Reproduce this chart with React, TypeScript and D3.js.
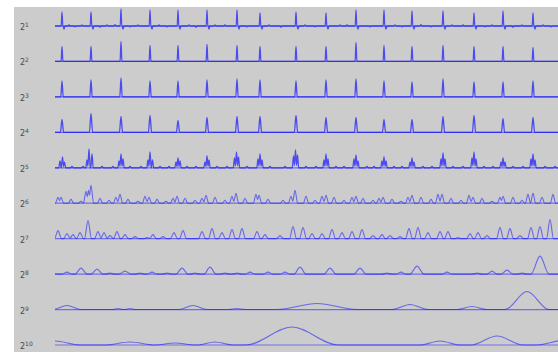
import React from 'react';
import * as d3 from 'd3';

type Peak = [number, number, number]; // [sample, amplitude, half-width]

const N_SAMPLES = 503;
const SCALES = ['1', '2', '3', '4', '5', '6', '7', '8', '9', '10'];

// beat positions (sample index) shared by the fine scales
const BEATS = [7, 36, 66, 95, 123, 152, 182, 205, 241, 271, 301, 329, 357, 388, 419, 448, 478];
const ROW1_HEIGHTS = [14, 14, 17, 16, 16, 16, 16, 13, 14, 13, 16, 16, 15, 15, 13, 15, 13];
const ROW2_HEIGHTS = [15, 15, 20, 16, 16, 17, 16, 15, 15, 15, 19, 16, 15, 16, 15, 15, 14];
const ROW3_HEIGHTS = [16, 17, 19, 16, 16, 17, 18, 17, 16, 17, 18, 16, 15, 18, 15, 15, 16];
const ROW4_HEIGHTS = [13, 19, 16, 17, 12, 15, 16, 16, 17, 15, 15, 13, 13, 16, 17, 14, 15];

// small jitter around the first scale baseline
const ROW1_NOISE: [number, number][] = [
  [9, -3], [14, 1.2], [20, -1], [27, 1], [38, -3], [45, -1.2], [52, 1], [60, 1.3], [68, -3], [75, -1],
  [83, 1], [97, -3], [104, 1.2], [112, -1], [125, -3], [134, 1], [141, -1.3], [154, -3], [160, 1],
  [170, 1.2], [184, -3], [192, -1], [207, -3], [214, 1], [226, -1.2], [243, -3], [250, 1], [260, -1],
  [273, -3], [285, 1], [292, 1.2], [303, -3], [315, -1], [331, -3], [340, 1], [347, -1], [359, -3],
  [366, 1.3], [376, -1], [390, -3], [397, 1], [408, 1.2], [421, -3], [430, -1], [437, 1], [450, -3],
  [458, -1.2], [467, 1], [480, -3], [488, 1], [496, -1],
];

const ROW5_PEAKS: [number, number][] = [
  [5, 7], [7.5, 11], [9.5, 6], [32, 8], [34, 19], [37, 14], [64, 7], [66, 14], [68, 9],
  [93, 8], [95, 16], [97.5, 8], [121, 6], [123, 10], [125, 7], [150, 6], [152, 12], [154, 8],
  [179.5, 10], [181.5, 16], [183.5, 11], [203, 9], [205, 14], [207, 8], [238.5, 12], [240.5, 18],
  [242.5, 13], [269, 8], [271, 14], [273, 9], [299, 9], [301, 13], [303, 7], [327, 7], [329, 11],
  [331, 7], [355, 6], [357, 10], [359, 6], [386, 9], [388, 15], [390, 9], [417, 10], [419, 16],
  [421, 9], [446, 6], [448, 10], [450, 6], [476, 9], [478, 14], [480, 8],
];
const ROW5_SMALL = [17, 28, 47, 58, 75, 86, 105, 114, 132, 141, 162, 172, 192, 215, 230, 251, 261, 281,
  289, 312, 319, 339, 347, 368, 377, 398, 408, 429, 438, 458, 468, 490, 500];

const ROW6_PEAKS: [number, number][] = [
  [3, 6], [6, 6], [16, 4], [26, 2], [31, 12], [33.5, 13], [36, 18], [45, 5], [54, 3], [61, 6], [65, 9],
  [73, 4], [83, 2], [90, 7], [94, 6], [102, 4], [111, 2], [118, 5], [122, 7], [130, 5], [140, 3],
  [147, 5], [151, 8], [160, 6], [170, 3], [177, 7], [181, 10], [190, 5], [201, 9], [204, 8], [213, 4],
  [228, 3], [236, 7], [240, 13], [251, 7], [260, 3], [267, 7], [271, 8], [279, 6], [289, 3], [297, 6],
  [301, 7], [308, 5], [318, 3], [324, 5], [328, 6], [337, 4], [346, 2], [353, 6], [357, 8], [366, 6],
  [376, 4], [383, 9], [387, 9], [396, 5], [406, 3], [414, 8], [418, 6], [427, 5], [437, 2], [445, 6],
  [448, 7], [458, 6], [467, 3], [473, 9], [478, 10], [487, 6], [498, 9],
];

const ROW7_PEAKS: [number, number][] = [
  [3, 8], [12, 5], [18, 4], [25, 6], [33, 18], [43, 7], [49, 6], [55, 3], [62, 7], [70, 4], [80, 2],
  [92, 1], [98, 4], [108, 2], [119, 6], [128, 8], [147, 7], [157, 10], [167, 6], [177, 9], [187, 10],
  [202, 7], [210, 4], [225, 3], [238, 12], [248, 11], [257, 5], [267, 5], [277, 9], [287, 6], [297, 7],
  [307, 9], [318, 3], [327, 4], [335, 3], [345, 2], [354, 10], [363, 11], [373, 6], [385, 7], [393, 7],
  [403, 1], [415, 5], [423, 6], [432, 3], [445, 11], [455, 10], [465, 3], [476, 11], [485, 12], [495, 19],
];

const ROW8_PEAKS: Peak[] = [
  [12, 2, 5], [26, 6, 6], [42, 5, 6], [55, 1, 5], [70, 3, 6], [85, 1, 5], [97, 2, 5], [112, 1, 5],
  [127, 6, 6], [140, 1, 5], [155, 7, 6], [170, 1, 5], [182, 1, 5], [195, 2, 5], [213, 2, 5], [230, 2, 5],
  [245, 7, 6], [275, 6, 6], [305, 6, 6], [332, 1, 5], [346, 2, 5], [362, 8, 7], [392, 2, 5], [422, 1, 5],
  [437, 3, 5], [452, 4, 6], [467, 1, 5], [485, 18, 9],
];

const ROW9_PEAKS: Peak[] = [
  [12, 4, 14], [63, 1, 5], [75, 1, 5], [138, 4, 14], [182, 1, 8], [262, 6, 40], [355, 5, 18],
  [417, 3, 15], [472, 18, 22],
];

const ROW10_PEAKS: Peak[] = [
  [0, 4, 25], [75, 3, 25], [120, 2, 20], [160, 3, 18], [237, 18, 46], [385, 4, 20], [442, 9, 26],
  [510, 5, 28],
];

const merges = (a: Peak, b: Peak) => a[1] > 0 && b[1] > 0 && a[0] + a[2] > b[0] - b[2];

const valley = (a: Peak, b: Peak): [number, number] => {
  const [p1, h1, w1] = a;
  const [p2, h2, w2] = b;
  let x = (h1 - h2 + (h1 * p1) / w1 + (h2 * p2) / w2) / (h1 / w1 + h2 / w2);
  x = Math.max(p1, Math.min(p2, x));
  const y = Math.max(0, h1 * (1 - (x - p1) / w1));
  return [x, Math.min(y, h1, h2)];
};

const toVertices = (peaks: Peak[]): [number, number][] => {
  const sorted = peaks.slice().sort((a, b) => a[0] - b[0]);
  const raw: [number, number][] = [[-60, 0]];
  sorted.forEach((pk, i) => {
    const prev = sorted[i - 1];
    const next = sorted[i + 1];
    if (!(prev && merges(prev, pk))) raw.push([pk[0] - pk[2], 0]);
    raw.push([pk[0], pk[1]]);
    if (next && merges(pk, next)) raw.push(valley(pk, next));
    else raw.push([pk[0] + pk[2], 0]);
  });
  raw.push([N_SAMPLES + 80, 0]);
  raw.sort((a, b) => a[0] - b[0]);
  const out: [number, number][] = [];
  raw.forEach((p) => {
    const last = out[out.length - 1];
    if (last && p[0] <= last[0] + 0.01) {
      if (Math.abs(p[1]) > Math.abs(last[1])) out[out.length - 1] = p;
    } else out.push(p);
  });
  return out;
};

const ROWS: Peak[][] = [
  [...BEATS.map((t, i) => [t, ROW1_HEIGHTS[i], 0.8] as Peak), ...ROW1_NOISE.map(([t, h]) => [t, h, 0.9] as Peak)],
  BEATS.map((t, i) => [t, ROW2_HEIGHTS[i], 0.9] as Peak),
  BEATS.map((t, i) => [t, ROW3_HEIGHTS[i], 1.2] as Peak),
  BEATS.map((t, i) => [t, ROW4_HEIGHTS[i], 1.6] as Peak),
  [...ROW5_PEAKS.map(([t, h]) => [t, h, 1.2] as Peak), ...ROW5_SMALL.map((t) => [t, 1.5, 1.5] as Peak)],
  ROW6_PEAKS.map(([t, h]) => [t, h, 2.6] as Peak),
  ROW7_PEAKS.map(([t, h]) => [t, h, 3.5] as Peak),
  ROW8_PEAKS,
  ROW9_PEAKS,
  ROW10_PEAKS,
];

export default function App() {
  const width = 558;
  const height = 352;

  const x = d3.scaleLinear().domain([0, N_SAMPLES]).range([55, 558]);
  const row = d3.scalePoint<string>().domain(SCALES).range([26, 345]);
  const amp = d3.scaleLinear().domain([0, 20]).range([0, 20]);

  const stroke = '#1414ff';

  return (
    <svg
      width={width}
      height={height}
      style={{ position: 'absolute', left: 0, top: 0, fontFamily: 'DejaVu Sans, sans-serif' }}
    >
      <defs>
        <clipPath id="plot-clip">
          <rect x={x(0)} y={0} width={x(N_SAMPLES) - x(0)} height={height} />
        </clipPath>
      </defs>
      <rect x={0} y={0} width={width} height={height} fill="#ffffff" />
      <rect x={14} y={7} width={width - 14} height={height - 7} fill="#cccccc" />
      {SCALES.map((s, i) => {
        const base = row(s) as number;
        const line = d3
          .line<[number, number]>()
          .x((d) => x(d[0]))
          .y((d) => base - amp(d[1]))
          .curve(d3.curveMonotoneX);
        return (
          <g key={s}>
            <text x={20} y={base + 4} fontSize={8} fill="#4a4a4a">
              2<tspan dy={-3} fontSize={6}>{s}</tspan>
            </text>
            <line
              x1={x(0)}
              x2={x(N_SAMPLES)}
              y1={base}
              y2={base}
              stroke={stroke}
              strokeOpacity={0.5}
              strokeWidth={1.2}
            />
            <path
              d={line(toVertices(ROWS[i])) || ''}
              fill="none"
              stroke={stroke}
              strokeOpacity={i < 5 ? 0.7 : 0.55}
              strokeWidth={i < 5 ? 1.3 : 1.1}
              clipPath="url(#plot-clip)"
            />
          </g>
        );
      })}
    </svg>
  );
}
